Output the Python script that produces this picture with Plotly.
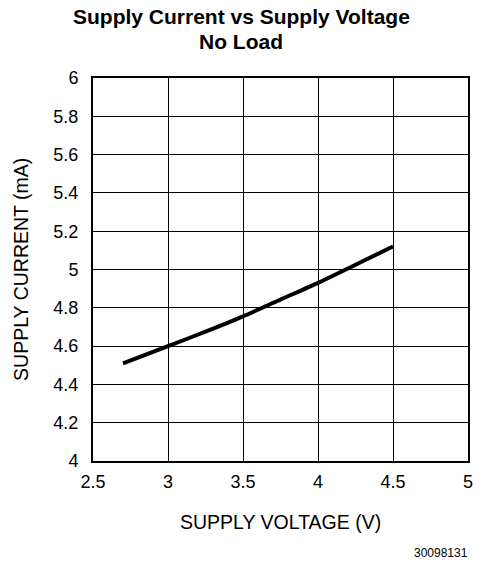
import plotly.graph_objects as go

voltage = [2.7, 3.0, 3.25, 3.5, 3.75, 4.0, 4.25, 4.5]
current = [4.51, 4.60, 4.675, 4.755, 4.843, 4.93, 5.025, 5.12]
x_ticks = [2.5, 3, 3.5, 4, 4.5, 5]
x_tick_labels = ["2.5", "3", "3.5", "4", "4.5", "5"]
y_ticks = [4, 4.2, 4.4, 4.6, 4.8, 5, 5.2, 5.4, 5.6, 5.8, 6]
y_tick_labels = ["4", "4.2", "4.4", "4.6", "4.8", "5", "5.2", "5.4", "5.6", "5.8", "6"]

font = "Liberation Sans, Arial, Helvetica, sans-serif"

fig = go.Figure()
fig.add_trace(go.Scatter(x=voltage, y=current, mode="lines",
                         line=dict(color="black", width=4, shape="spline", smoothing=0.6),
                         showlegend=False))

def py(pix):
    return (461 - pix) / 383

def px(pix):
    return (pix - 93) / 377

fig.update_layout(
    width=485, height=565,
    margin=dict(l=93, r=15, t=78, b=104),
    paper_bgcolor="white", plot_bgcolor="white",
    font=dict(family=font, color="black", size=18),
    xaxis=dict(range=[2.5, 5], tickvals=x_ticks, ticktext=x_tick_labels,
               showgrid=True, gridcolor="black", gridwidth=1,
               showline=True, linecolor="black", linewidth=2, mirror=True,
               ticks="", zeroline=False, ticklabelstandoff=3,
               tickfont=dict(size=18)),
    yaxis=dict(range=[4, 6], tickvals=y_ticks, ticktext=y_tick_labels,
               showgrid=True, gridcolor="black", gridwidth=1,
               showline=True, linecolor="black", linewidth=2, mirror=True,
               ticks="", zeroline=False, ticklabelstandoff=9,
               tickfont=dict(size=18)),
    annotations=[
        dict(text="<b>Supply Current vs Supply Voltage</b>",
             xref="paper", yref="paper", x=px(242), y=py(17),
             xanchor="center", yanchor="middle", showarrow=False,
             font=dict(size=21, family=font), borderpad=0),
        dict(text="<b>No Load</b>",
             xref="paper", yref="paper", x=px(242), y=py(42),
             xanchor="center", yanchor="middle", showarrow=False,
             font=dict(size=21, family=font), borderpad=0),
        dict(text="SUPPLY VOLTAGE (V)", xref="paper", yref="paper",
             x=0.5, y=py(522), xanchor="center", yanchor="middle",
             showarrow=False, font=dict(size=19.5, family=font)),
        dict(text="SUPPLY CURRENT (mA)", xref="paper", yref="paper",
             x=px(20), y=0.5, xanchor="center", yanchor="middle",
             textangle=-90, showarrow=False, font=dict(size=19.5, family=font)),
        dict(text="30098131", xref="paper", yref="paper",
             x=px(472), y=py(553), xanchor="right", yanchor="middle",
             showarrow=False, font=dict(size=12, family=font)),
    ],
)

fig.write_html("out.html")
